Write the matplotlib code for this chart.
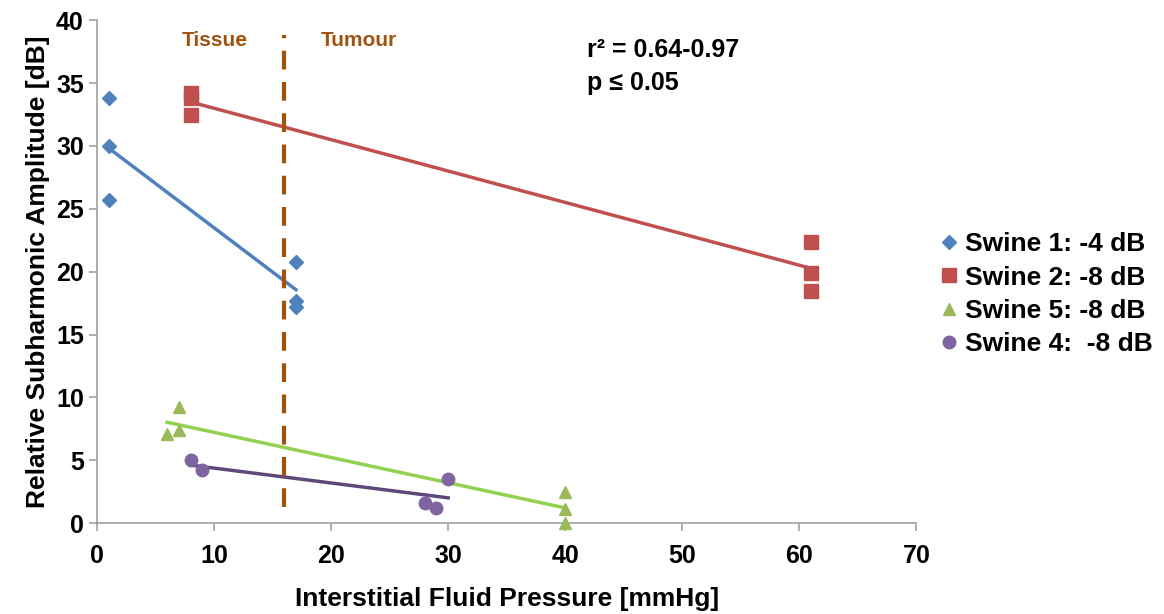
import numpy as np
import matplotlib.pyplot as plt

plt.rcParams['font.family'] = ['Liberation Sans', 'DejaVu Sans']
plt.rcParams['font.weight'] = 'bold'

# data
s1_x = [1, 1, 1, 17, 17, 17]
s1_y = [33.8, 30.0, 25.7, 20.8, 17.7, 17.2]
s2_x = [8, 8, 8, 61, 61, 61]
s2_y = [34.2, 33.8, 32.5, 22.4, 19.9, 18.5]
s5_x = [6, 7, 7, 40, 40, 40]
s5_y = [7.1, 9.2, 7.4, 2.5, 1.1, 0.0]
s4_x = [8, 9, 28, 29, 30]
s4_y = [5.0, 4.2, 1.6, 1.2, 3.5]

labels = ['Swine 1: -4 dB', 'Swine 2: -8 dB', 'Swine 5: -8 dB', 'Swine 4:  -8 dB']
markers = ['D', 's', '^', 'o']
msizes = [7, 10, 9, 9]
colors = ['#4F81BD', '#C0504D', '#9BBB59', '#8064A2']
line_colors = ['#4F81BD', '#C0504D', '#92D050', '#5F497A']

boundary_x = 16
brown = '#A0520F'

fig = plt.figure(figsize=(11.64, 6.14), dpi=100)
ax = fig.add_axes([0.0833, 0.148, 0.704, 0.819])

series = [(s1_x, s1_y), (s2_x, s2_y), (s5_x, s5_y), (s4_x, s4_y)]
for (x, y), lab, m, ms, c, lc in zip(series, labels, markers, msizes, colors, line_colors):
    x = np.array(x)
    y = np.array(y)
    ax.plot(x, y, linestyle='none', marker=m, markersize=ms, color=c, label=lab,
            clip_on=False, zorder=3)
    # linear trendline
    k, b = np.polyfit(x, y, 1)
    xs = np.array([x.min(), x.max()])
    ax.plot(xs, k * xs + b, color=lc, linewidth=2.5, zorder=1)

ax.plot([boundary_x, boundary_x], [1.3, 38.8], color=brown, linewidth=3,
        linestyle=(0, (4.5, 3)), zorder=2)

ax.text(10.1, 38.4, 'Tissue', color=brown, fontsize=15, fontweight='bold', ha='center', va='center')
ax.text(22.4, 38.4, 'Tumour', color=brown, fontsize=15, fontweight='bold', ha='center', va='center')
ax.text(41.9, 37.6, 'r² = 0.64-0.97', fontsize=18, fontweight='bold', ha='left', va='center')
ax.text(41.9, 35.0, 'p ≤ 0.05', fontsize=18, fontweight='bold', ha='left', va='center')

ax.set_xlim(0, 70)
ax.set_ylim(0, 40)
ax.set_xticks(range(0, 71, 10))
ax.set_yticks(range(0, 41, 5))
ax.tick_params(labelsize=18, color='#A0A0A0', length=6, width=1.2)
ax.tick_params(axis='x', pad=9)
for lbl in ax.get_xticklabels() + ax.get_yticklabels():
    lbl.set_fontweight('bold')
ax.spines['top'].set_visible(False)
ax.spines['right'].set_visible(False)
ax.spines['left'].set_color('#A0A0A0')
ax.spines['bottom'].set_color('#A0A0A0')
ax.spines['left'].set_linewidth(1.2)
ax.spines['bottom'].set_linewidth(1.2)

ax.set_xlabel('Interstitial Fluid Pressure [mmHg]', fontsize=19, fontweight='bold', labelpad=14)
ax.set_ylabel('Relative Subharmonic Amplitude [dB]', fontsize=19, fontweight='bold', labelpad=4)

ax.legend(loc='center left', bbox_to_anchor=(0.995, 0.455), frameon=False,
          prop={'size': 19, 'weight': 'bold'}, handletextpad=0.1,
          handlelength=1.0, labelspacing=0.35)

fig.savefig('out.png', dpi=100)
